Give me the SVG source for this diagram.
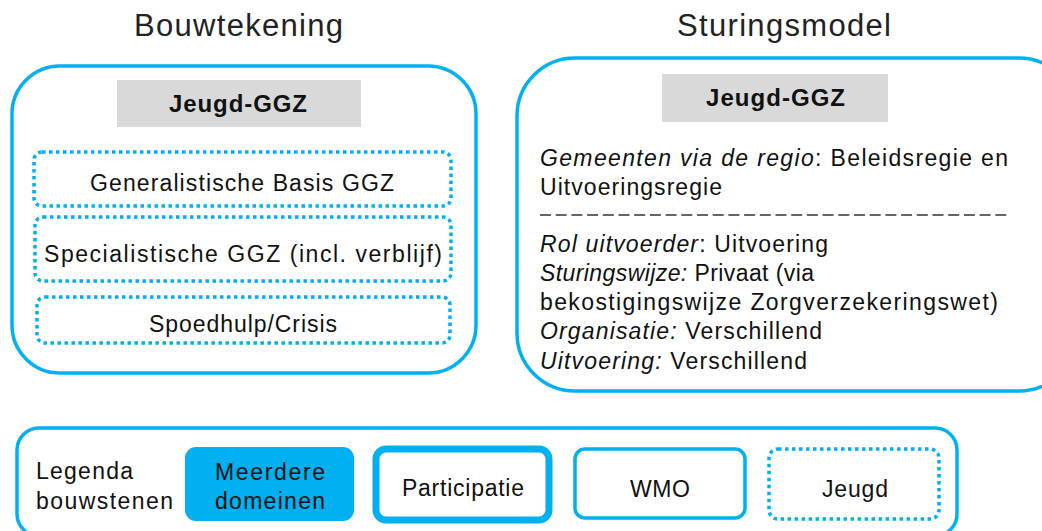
<svg xmlns="http://www.w3.org/2000/svg" width="1042" height="531" viewBox="0 0 1042 531">
<style>
.t{font-family:"Liberation Sans","Noto Sans",sans-serif;fill:#111;}
.big{font-size:31px;fill:#222;}
.n{font-size:23px;}
.b{font-size:24px;font-weight:bold;}
.i{font-style:italic;}
.frame{fill:#fff;stroke:#00b0f0;stroke-width:3.5;}
.dot{fill:none;stroke:#00b0f0;stroke-width:3.5;stroke-dasharray:3.5 3.5;}
.hdr{fill:#d9d9d9;}
</style>
<rect width="1042" height="531" fill="#fff"/>
<g id="title-left"><text class="t big" x="134" y="36" textLength="209">Bouwtekening</text></g>
<g id="title-right"><text class="t big" x="677" y="36" textLength="214">Sturingsmodel</text></g>

<g id="bouwtekening">
<rect class="frame" x="12" y="66" width="464" height="307" rx="48"/>
<rect class="hdr" x="117" y="80" width="244" height="47"/>
<text class="t b" x="169" y="112" textLength="138">Jeugd-GGZ</text>
</g>
<g id="generalistische">
<rect class="dot" x="34" y="152" width="417" height="54" rx="8"/>
<text class="t n" x="90" y="191" textLength="304">Generalistische Basis GGZ</text>
</g>
<g id="specialistische">
<rect class="dot" x="35" y="217" width="416" height="64" rx="8"/>
<text class="t n" x="44" y="262" textLength="398">Specialistische GGZ (incl. verblijf)</text>
</g>
<g id="spoedhulp">
<rect class="dot" x="37" y="297" width="413" height="46" rx="8"/>
<text class="t n" x="149" y="332" textLength="188">Spoedhulp/Crisis</text>
</g>

<g id="sturingsmodel">
<rect class="frame" x="517" y="58" width="560" height="333" rx="58"/>
<rect class="hdr" x="662" y="74" width="226" height="48"/>
<text class="t b" x="706" y="106" textLength="139">Jeugd-GGZ</text>
<text class="t n" x="540" y="166" textLength="468"><tspan class="i">Gemeenten via de regio</tspan>: Beleidsregie en</text>
<text class="t n" x="540" y="195" textLength="182">Uitvoeringsregie</text>
<line x1="540" y1="215" x2="1008" y2="215" stroke="#333" stroke-width="1.3" stroke-dasharray="11 4.7"/>
<text class="t n" x="540" y="252" textLength="288"><tspan class="i">Rol uitvoerder</tspan>: Uitvoering</text>
<text class="t n" x="540" y="281" textLength="274"><tspan class="i">Sturingswijze:</tspan> Privaat (via</text>
<text class="t n" x="540" y="310" textLength="458">bekostigingswijze Zorgverzekeringswet)</text>
<text class="t n" x="540" y="339" textLength="282"><tspan class="i">Organisatie:</tspan> Verschillend</text>
<text class="t n" x="540" y="369" textLength="267"><tspan class="i">Uitvoering:</tspan> Verschillend</text>
</g>

<g id="legenda">
<rect class="frame" x="17" y="428" width="940" height="108" rx="22"/>
<text class="t n" x="36" y="479" textLength="97">Legenda</text>
<text class="t n" x="36" y="509" textLength="137">bouwstenen</text>
</g>
<g id="leg-meerdere">
<rect x="185" y="447" width="169" height="74" rx="11" fill="#00b0f0"/>
<text class="t n" x="215" y="480" textLength="110">Meerdere</text>
<text class="t n" x="215" y="509" textLength="110">domeinen</text>
</g>
<g id="leg-participatie">
<rect x="376" y="449" width="173" height="71" rx="10" fill="#fff" stroke="#00b0f0" stroke-width="7"/>
<text class="t n" x="402" y="496" textLength="122">Participatie</text>
</g>
<g id="leg-wmo">
<rect x="575" y="449" width="170" height="69" rx="10" fill="#fff" stroke="#00b0f0" stroke-width="3.5"/>
<text class="t n" x="630" y="497" textLength="60">WMO</text>
</g>
<g id="leg-jeugd">
<rect class="dot" x="769" y="449" width="170" height="70" rx="9"/>
<text class="t n" x="822" y="497" textLength="66">Jeugd</text>
</g>
<g id="connectors"></g>
</svg>
